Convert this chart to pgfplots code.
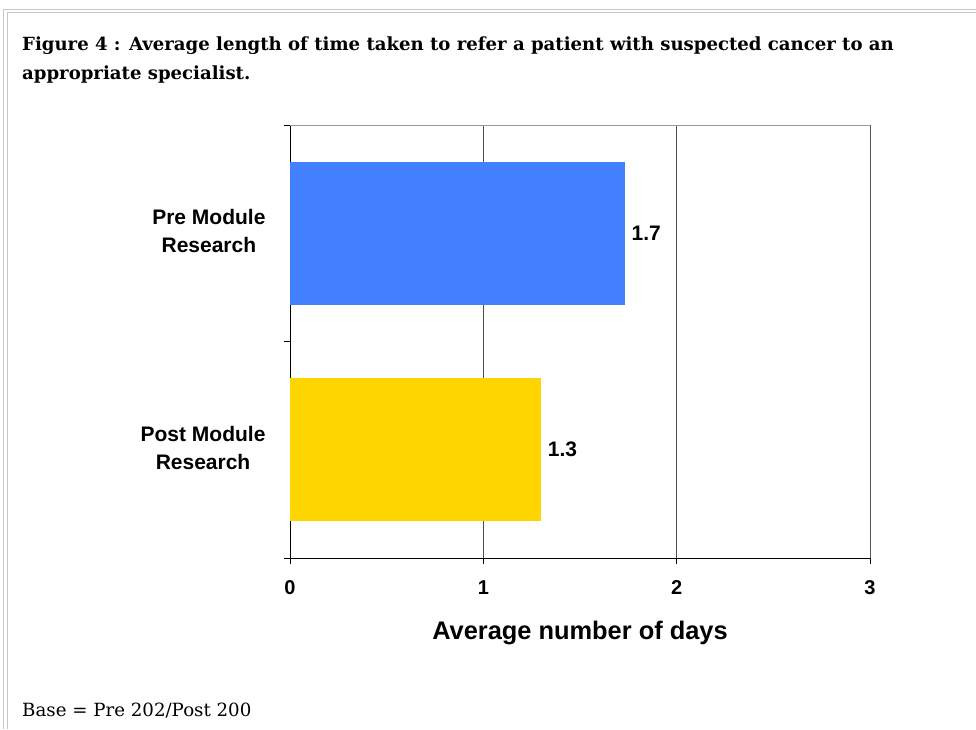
\documentclass[border=0pt]{standalone}
\usepackage{fontspec}
\usepackage{pgfplots}
\pgfplotsset{compat=1.18}
\setmainfont{DejaVu Serif}
\newfontfamily\arial{Liberation Sans}

\definecolor{barblue}{RGB}{66,128,255}
\definecolor{baryellow}{RGB}{255,213,0}
\definecolor{framegray}{RGB}{200,200,200}

\begin{document}
\begin{tikzpicture}
\useasboundingbox (0,0) rectangle (976pt,-729pt);

% page frame
\draw[framegray, line width=1.5pt] (3.7pt,-729pt) -- (3.7pt,-9.5pt) -- (976pt,-9.5pt);
\draw[framegray, line width=1.5pt] (7.3pt,-729pt) -- (7.3pt,-12.3pt) -- (976pt,-12.3pt);

% title and note
\node[anchor=base west, inner sep=0pt, font=\bfseries\fontsize{18.1}{20}\selectfont]
  at (22pt,-50pt) {Figure 4 : Average length of time taken to refer a patient with suspected cancer to an};
\node[anchor=base west, inner sep=0pt, font=\bfseries\fontsize{18.1}{20}\selectfont]
  at (22pt,-79pt) {appropriate specialist.};
\node[anchor=base west, inner sep=0pt, font=\fontsize{18.2}{20}\selectfont]
  at (22pt,-716pt) {Base = Pre 202/Post 200};

\begin{axis}[
    xbar,
    scale only axis,
    width=580pt, height=433pt,
    at={(290pt,-558pt)}, anchor=south west,
    xmin=0, xmax=3,
    ymin=-0.5, ymax=1.5,
    axis lines=left,
    axis line style={-, black, line width=1pt},
    xtick={0,1,2,3},
    ytick={0,1},
    yticklabels={Post Module\\Research, Pre Module\\Research},
    tick align=outside,
    xtick style={black, line width=0.8pt},
    major tick length=6pt,
    ytick style={draw=none},
    extra y ticks={-0.5,0.5,1.5},
    extra y tick labels={},
    extra y tick style={ytick style={draw=black, line width=0.8pt}, major tick length=6pt},
    xmajorgrids,
    grid style={draw=black!70, line width=0.8pt},
    /pgf/number format/assume math mode=true,
    tick label style={font=\arial\bfseries\fontsize{20}{20}\selectfont},
    xticklabel style={yshift=-13pt},
    yticklabel style={align=center, anchor=east, xshift=-15pt, yshift=2pt,
      font=\arial\bfseries\fontsize{21}{28}\selectfont},
    xlabel={Average number of days},
    xlabel style={at={(axis description cs:0.5,0)}, anchor=center, yshift=-75pt,
      font=\arial\bfseries\fontsize{25.4}{25}\selectfont},
    bar width=143pt,
    bar shift=0pt,
    point meta=explicit symbolic,
    nodes near coords,
    every node near coord/.append style={anchor=west, xshift=3pt,
      font=\arial\bfseries\fontsize{21}{20}\selectfont},
]
\draw[black!40, line width=0.8pt] (axis cs:0,1.5) -- (axis cs:3,1.5) -- (axis cs:3,-0.5);
\addplot[fill=barblue, draw=none] coordinates {(1.733,1) [1.7]};
\addplot[fill=baryellow, draw=none] coordinates {(1.30,0) [1.3]};
\end{axis}
\end{tikzpicture}
\end{document}
